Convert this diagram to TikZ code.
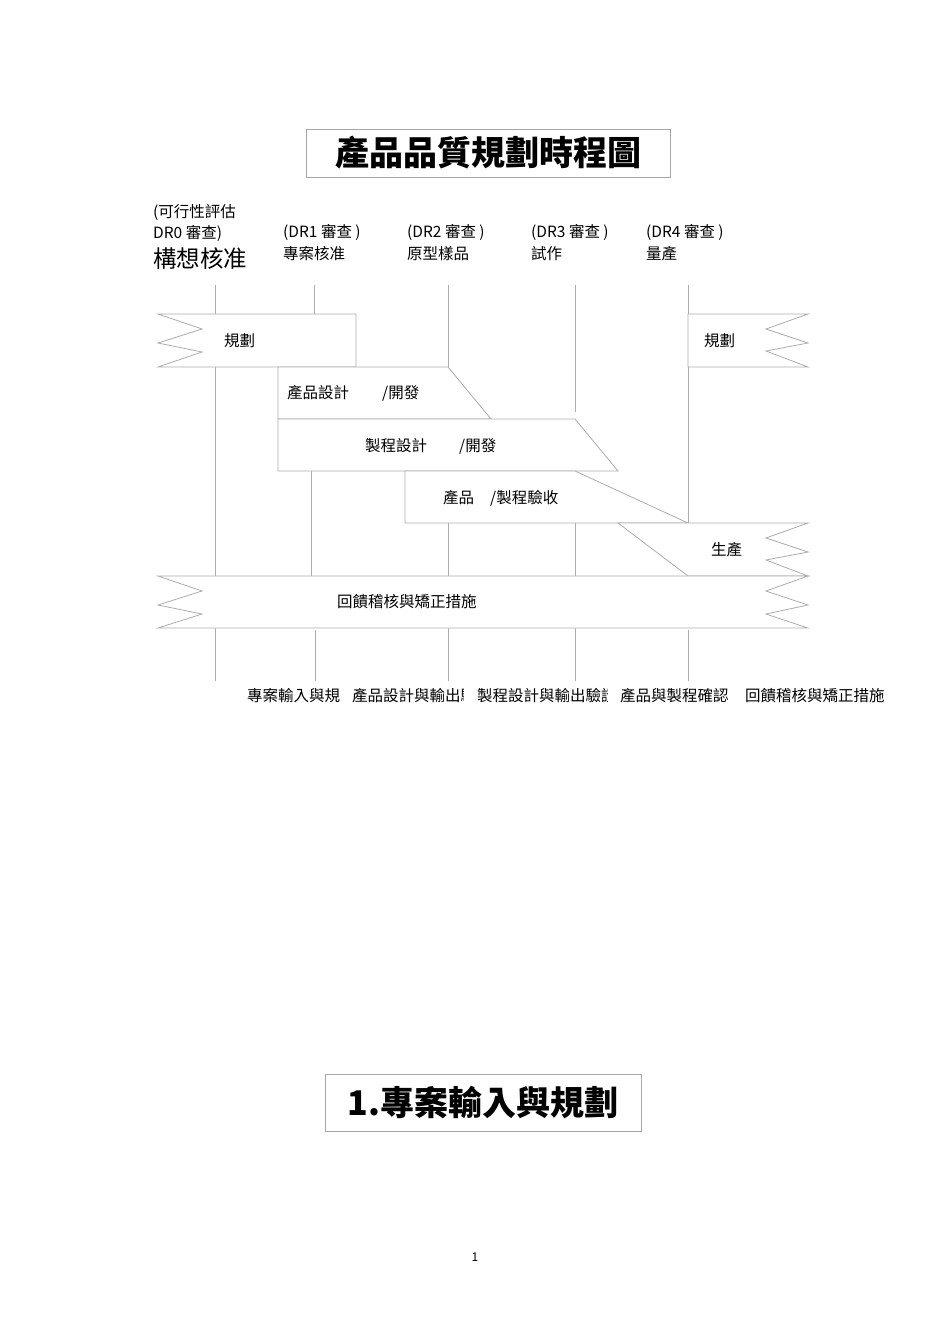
\documentclass[tikz,border=0pt]{standalone}
\usepackage{fontspec}
\setmainfont{Noto Sans CJK TC}
\begin{document}
\begin{tikzpicture}[x=1pt,y=-1pt,
  ln/.style={draw=black!32, line width=0.8pt},
  band/.style={draw=black!32, line width=0.8pt, fill=white},
  lbl/.style={inner sep=0pt, anchor=west, font=\fontsize{15.5}{16}\selectfont},
  hdr/.style={inner sep=0pt, anchor=west, font=\fontsize{15.5}{16}\selectfont},
  titlebox/.style={draw=black!35, line width=0.8pt, inner sep=0pt}]
\useasboundingbox (0,0) rectangle (950,1344);
\fill[white] (0,0) rectangle (950,1344);

% title
\node[titlebox, minimum width=364pt, minimum height=48pt, font=\fontsize{34}{35}\selectfont\bfseries] (title) at (488,153) {產品品質規劃時程圖};

% header labels
\node[hdr] (h0a) at (153,212) {(可行性評估};
\node[hdr] (h0b) at (153,233) {DR0 審查)};
\node[hdr, font=\fontsize{23.5}{24}\selectfont] (h0c) at (153,259) {構想核准};
\node[hdr] (h1a) at (283,232) {(DR1 審查 )};
\node[hdr] (h1b) at (283,254) {專案核准};
\node[hdr] (h2a) at (407,232) {(DR2 審查 )};
\node[hdr] (h2b) at (407,254) {原型樣品};
\node[hdr] (h3a) at (531,232) {(DR3 審查 )};
\node[hdr] (h3b) at (531,254) {試作};
\node[hdr] (h4a) at (646,232) {(DR4 審查 )};
\node[hdr] (h4b) at (646,254) {量產};

% vertical lines
\draw[ln] (215,285) -- (215,314) (215,367) -- (215,576) (215,628) -- (215,681);
\draw[ln] (314,285) -- (314,314) (311,471) -- (311,576) (315,630) -- (315,681);
\draw[ln] (448,285) -- (448,367) (448,523) -- (448,576) (448,628) -- (448,681);
\draw[ln] (575,285) -- (575,412) (575,523) -- (575,576) (575,628) -- (575,681);
\draw[ln] (688,285) -- (688,314) (688,367) -- (688,523) (688,630) -- (688,681);

% left planning band
\draw[band] (356,314) -- (158,314) -- (202,329) -- (158,343) -- (202,352) -- (158,367) -- (356,367) -- cycle;
\node[lbl] (plan1) at (224,341) {規劃};
% right planning band
\draw[band] (688,314) -- (808,314) -- (766,329) -- (808,343) -- (766,351) -- (808,367) -- (688,367) -- cycle;
\node[lbl] (plan2) at (704,341) {規劃};

% product design
\draw[band] (278,367) -- (448,367) -- (491,419) -- (278,419) -- cycle;
\node[lbl] (pd1) at (287,393) {產品設計};
\node[lbl] (pd2) at (382,393) {/開發};
% process design
\draw[band] (278,419) -- (575,419) -- (618,471) -- (278,471) -- cycle;
\node[lbl] (ps1) at (365,446) {製程設計};
\node[lbl] (ps2) at (459,446) {/開發};
% validation
\draw[band] (405,471) -- (575,471) -- (688,523) -- (405,523) -- cycle;
\node[lbl] (va1) at (443,498) {產品};
\node[lbl] (va2) at (490,498) {/製程驗收};
% production
\draw[band] (618,523) -- (808,523) -- (766,538) -- (808,552) -- (766,560) -- (808,576) -- (688,576) -- cycle;
\node[lbl] (prod) at (711,550) {生產};
% feedback
\draw[band] (158,576) -- (808,576) -- (766,591) -- (808,605) -- (766,614) -- (808,628) -- (158,628) -- (202,614) -- (158,605) -- (202,591) -- cycle;
\node[lbl] (fb) at (337,602) {回饋稽核與矯正措施};

% bottom labels
\node[lbl] (b1) at (247,696) {專案輸入與規};
\begin{scope}
\clip (352,680) rectangle (463.5,712);
\node[lbl] (b2) at (352,696) {產品設計與輸出驗證};
\end{scope}
\begin{scope}
\clip (477,680) rectangle (607,712);
\node[lbl] (b3) at (477,696) {製程設計與輸出驗證};
\end{scope}
\node[lbl] (b4) at (620,696) {產品與製程確認};
\node[lbl] (b5) at (745,696) {回饋稽核與矯正措施};

% section title
\node[titlebox, minimum width=316pt, minimum height=57pt, font=\fontsize{34}{35}\selectfont\bfseries] (sec) at (483,1102.5) {1.專案輸入與規劃};

% page number
\node[inner sep=0pt, font=\fontsize{12}{12}\selectfont] (pg) at (475,1257) {1};
\end{tikzpicture}
\end{document}
